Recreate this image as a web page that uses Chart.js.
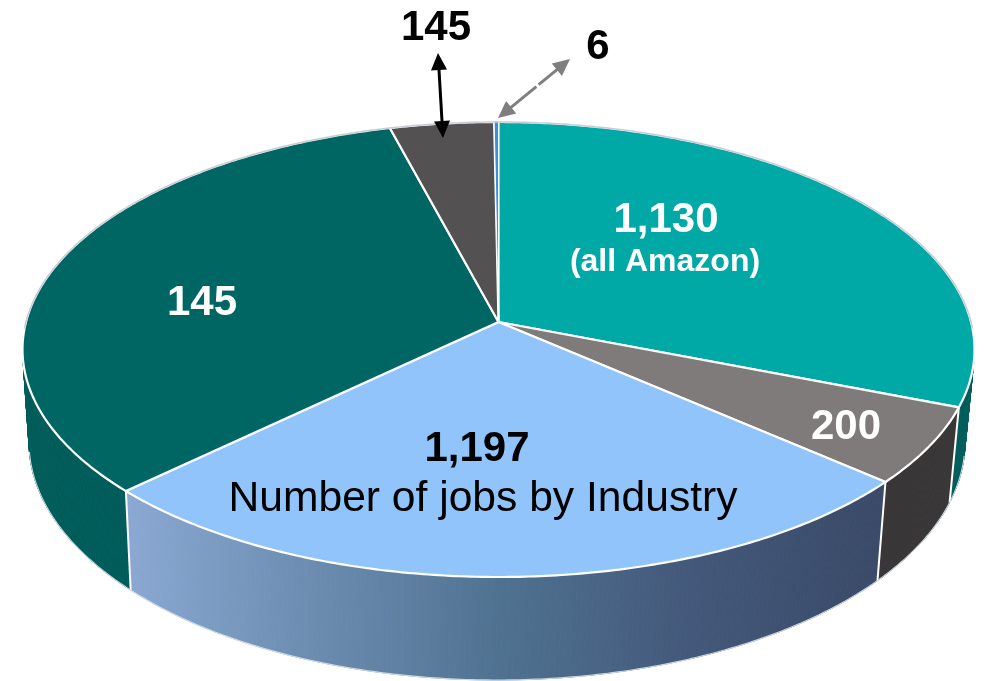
<!DOCTYPE html>
<html>
<head>
<meta charset="utf-8">
<style>html,body{margin:0;padding:0;background:#fff}canvas{display:block}</style>
<script src="https://cdn.jsdelivr.net/npm/chart.js@4/dist/chart.umd.min.js"></script>
</head>
<body>
<canvas id="c" width="984" height="681"></canvas>
<script>
// Slice sizes as estimated from the drawn wedges (the picture's printed numbers are kept separately)
const categories = ['Amazon', 'Segment B', 'Industry', 'Segment D', 'Segment E', 'Segment F'];
const sliceValues = [1130, 200, 966, 1206, 145, 6];
const topColors = ['#00A8A6', '#7F7B7B', '#90C4FB', '#006664', '#545152', '#3A8FE3'];
const wallColors = ['#005E5C', '#383636', null, '#005C5A', '#3a3a3a', '#2a5f9a'];

// Printed labels: [text, x, y, font, colour]
const printedLabels = [
  ['1,130', 666, 220, 'bold 42px', '#fff'],
  ['(all Amazon)', 665, 262, 'bold 32px', '#fff'],
  ['200', 846, 427, 'bold 42px', '#fff'],
  ['1,197', 477, 449, 'bold 42px', '#000'],
  ['Number of jobs by Industry', 483, 499, '42.6px', '#000'],
  ['145', 202, 303, 'bold 42px', '#fff'],
  ['145', 436, 28, 'bold 42px', '#000'],
  ['6', 598, 47, 'bold 42px', '#000']
];

// View geometry of the tilted disc
const topRim = {cx: 498.5, cy: 349.5, rx: 476, ry: 227.5};
const baseRim = {cx: 497, cy: 442, rx: 468, ry: 238};
const apexShift = 0.121;

function rimUV(t) {
  const up = Math.sin(t), vp = -Math.cos(t);
  const d = 1 - apexShift * vp;
  return [up * Math.sqrt(1 - apexShift * apexShift) / d, (vp - apexShift) / d];
}
function rimPt(rim, t) {
  const [u, v] = rimUV(t);
  return [rim.cx + u * rim.rx, rim.cy + v * rim.ry];
}
function steps(a, b) {
  const n = Math.max(2, Math.ceil(Math.abs(b - a) / 0.01));
  const out = [];
  for (let i = 0; i <= n; i++) out.push(a + (b - a) * i / n);
  return out;
}
function arrow(ctx, x0, y0, x1, y1, color, dash) {
  const L = Math.hypot(x1 - x0, y1 - y0), ux = (x1 - x0) / L, uy = (y1 - y0) / L, h = 17, w = 8;
  ctx.save();
  ctx.strokeStyle = color; ctx.fillStyle = color; ctx.lineWidth = 3;
  if (dash) ctx.setLineDash(dash);
  ctx.beginPath();
  ctx.moveTo(x0 + ux * h * .8, y0 + uy * h * .8);
  ctx.lineTo(x1 - ux * h * .8, y1 - uy * h * .8);
  ctx.stroke();
  for (const [px, py, s] of [[x0, y0, 1], [x1, y1, -1]]) {
    const bx = px + s * ux * h, by = py + s * uy * h;
    ctx.beginPath();
    ctx.moveTo(px, py);
    ctx.lineTo(bx - uy * w, by + ux * w);
    ctx.lineTo(bx + uy * w, by - ux * w);
    ctx.closePath();
    ctx.fill();
  }
  ctx.restore();
}

const tiltedPie = {
  id: 'tiltedPie',
  beforeDatasetDraw(chart, args) {
    const ctx = chart.ctx;
    const arcs = chart.getDatasetMeta(args.index).data;
    const ds = chart.data.datasets[args.index];
    const ang = arcs.map(a => {
      const p = a.getProps(['startAngle', 'endAngle'], true);
      return [p.startAngle + Math.PI / 2, p.endAngle + Math.PI / 2];
    });
    const apex = [topRim.cx, topRim.cy - apexShift * topRim.ry];
    ctx.save();
    ctx.lineJoin = 'round';

    // side walls, swept in small strips so the silhouette stays filled
    const blueWall = ctx.createLinearGradient(130, 0, 880, 0);
    blueWall.addColorStop(0, '#8AA8D2');
    blueWall.addColorStop(0.22, '#6E8FB3');
    blueWall.addColorStop(0.5, '#4F7190');
    blueWall.addColorStop(0.75, '#43587A');
    blueWall.addColorStop(1, '#3A4A68');
    ang.forEach(([s, e], i) => {
      const ts = steps(s, e);
      const style = wallColors[i] || blueWall;
      ctx.fillStyle = style;
      ctx.strokeStyle = style;
      ctx.lineWidth = 1;
      for (let k = 0; k < ts.length - 1; k++) {
        const a = rimPt(topRim, ts[k]), b = rimPt(topRim, ts[k + 1]);
        const c = rimPt(baseRim, ts[k + 1]), d = rimPt(baseRim, ts[k]);
        ctx.beginPath();
        ctx.moveTo(a[0], a[1]); ctx.lineTo(b[0], b[1]); ctx.lineTo(c[0], c[1]); ctx.lineTo(d[0], d[1]);
        ctx.closePath();
        ctx.fill();
        ctx.stroke();
      }
    });
    // white edges where the walls meet, on the near side only
    ctx.strokeStyle = '#fff';
    ctx.lineWidth = 2;
    ang.forEach(([s]) => {
      if (rimUV(s)[1] <= 0.1) return;
      const a = rimPt(topRim, s), b = rimPt(baseRim, s);
      ctx.beginPath(); ctx.moveTo(a[0], a[1]); ctx.lineTo(b[0], b[1]); ctx.stroke();
    });
    // pale line along the bottom edge
    ctx.beginPath();
    steps(1.75, 4.55).forEach((t, k) => { const p = rimPt(baseRim, t); k ? ctx.lineTo(p[0], p[1]) : ctx.moveTo(p[0], p[1]); });
    ctx.strokeStyle = 'rgba(215,225,235,.9)';
    ctx.lineWidth = 1.2;
    ctx.stroke();

    // top faces
    ang.forEach(([s, e], i) => {
      ctx.beginPath();
      ctx.moveTo(apex[0], apex[1]);
      steps(s, e).forEach(t => { const p = rimPt(topRim, t); ctx.lineTo(p[0], p[1]); });
      ctx.closePath();
      ctx.fillStyle = ds.backgroundColor[i];
      ctx.fill();
      ctx.strokeStyle = '#fff';
      ctx.lineWidth = i === 5 ? 1 : 2.2;
      ctx.stroke();
    });

    // thin grey line on the far rim
    ctx.beginPath();
    steps(-1.6, 1.6).forEach((t, k) => { const p = rimPt(topRim, t); k ? ctx.lineTo(p[0], p[1]) : ctx.moveTo(p[0], p[1]); });
    ctx.strokeStyle = 'rgba(185,185,200,.75)';
    ctx.lineWidth = 1.5;
    ctx.stroke();
    ctx.restore();
    return false;
  },
  afterDraw(chart) {
    const ctx = chart.ctx;
    arrow(ctx, 438, 53, 443, 138, '#000');
    arrow(ctx, 498, 118, 570, 59, '#7F7F7F', [36, 3, 60]);
    ctx.save();
    ctx.textAlign = 'center';
    ctx.textBaseline = 'middle';
    printedLabels.forEach(([txt, x, y, font, col]) => {
      ctx.font = font + ' "Liberation Sans", Arial, sans-serif';
      ctx.fillStyle = col;
      ctx.fillText(txt, x, y);
    });
    ctx.restore();
  }
};

new Chart(document.getElementById('c'), {
  type: 'pie',
  data: {
    labels: categories,
    datasets: [{data: sliceValues, backgroundColor: topColors, borderColor: '#fff', borderWidth: 2}]
  },
  options: {
    responsive: false,
    animation: false,
    rotation: 0,
    plugins: {legend: {display: false}, tooltip: {enabled: false}}
  },
  plugins: [tiltedPie]
});
</script>
</body>
</html>
